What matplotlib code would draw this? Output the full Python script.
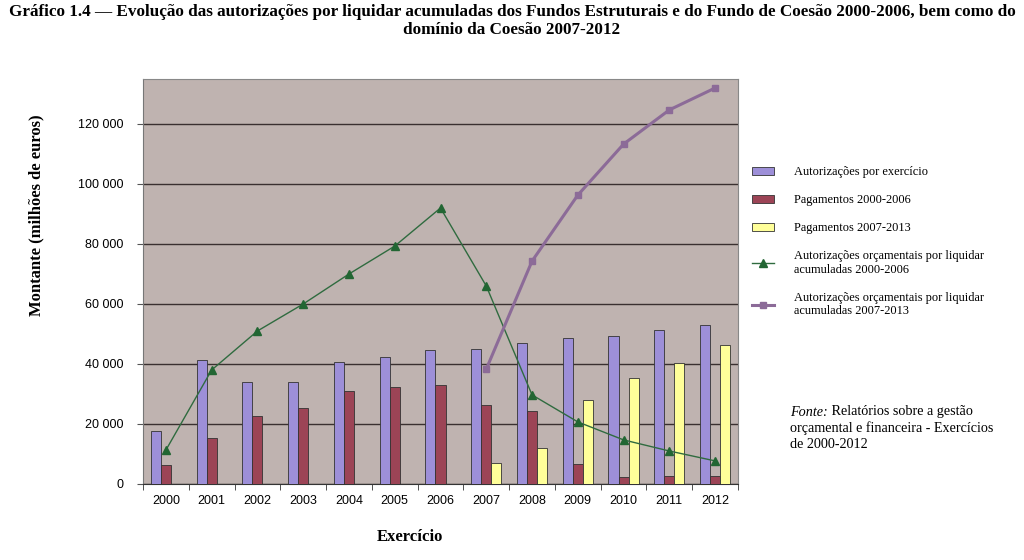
import matplotlib
matplotlib.use("Agg")
import matplotlib.pyplot as plt
import numpy as np

years = ["2000", "2001", "2002", "2003", "2004", "2005", "2006",
         "2007", "2008", "2009", "2010", "2011", "2012"]
autorizacoes = [17700, 41300, 34000, 34000, 40700, 42300, 44700,
                45000, 47000, 48700, 49300, 51300, 53000]
pag_2000_2006 = [6300, 15300, 22700, 25300, 31000, 32300, 33000,
                 26300, 24300, 6700, 2300, 2700, 2700]
pag_2007_2013 = [0, 0, 0, 0, 0, 0, 0,
                 7000, 12000, 28000, 35300, 40300, 46300]
ral_2000_2006 = [11300, 38000, 51000, 60000, 70000, 79300, 92000,
                 66000, 29700, 20700, 14700, 11000, 7700]
ral_2007_2013_years = ["2007", "2008", "2009", "2010", "2011", "2012"]
ral_2007_2013 = [38300, 74300, 96300, 113300, 124700, 132000]
yticks = [0, 20000, 40000, 60000, 80000, 100000, 120000]
ytick_labels = ["0", "20 000", "40 000", "60 000", "80 000", "100 000", "120 000"]

serif = "Liberation Serif"
sans = "Liberation Sans"

fig = plt.figure(figsize=(10.24, 5.6), dpi=100)
ax = fig.add_axes([143/1024, 1-484/560, (738-143)/1024, (484-79)/560])
ax.set_facecolor("#bfb3b0")

x = np.arange(len(years))
w = 0.22
c_purple = "#9d8fd8"
c_red = "#9c4456"
c_yellow = "#ffff99"
b1 = ax.bar(x - w, autorizacoes, w, color=c_purple, edgecolor="#333333", linewidth=0.6,
            label="Autorizações por exercício", zorder=3)
b2 = ax.bar(x, pag_2000_2006, w, color=c_red, edgecolor="#333333", linewidth=0.6,
            label="Pagamentos 2000-2006", zorder=3)
mask = np.array(pag_2007_2013) > 0
b3 = ax.bar(x[mask] + w, np.array(pag_2007_2013)[mask], w, color=c_yellow, edgecolor="#333333",
            linewidth=0.6, label="Pagamentos 2007-2013", zorder=3)
l1, = ax.plot(x, ral_2000_2006, color="#2f6b3f", linewidth=1.0, marker="^", markersize=6,
              markerfacecolor="#226633", markeredgecolor="#226633",
              label="Autorizações orçamentais por liquidar\nacumuladas 2000-2006", zorder=4)
x2 = [years.index(y) for y in ral_2007_2013_years]
l2, = ax.plot(x2, ral_2007_2013, color="#8c6b98", linewidth=2.2, marker="s", markersize=4,
              markerfacecolor="#8c6b98", markeredgecolor="#8c6b98",
              label="Autorizações orçamentais por liquidar\nacumuladas 2007-2013", zorder=4)

ax.set_xlim(-0.5, len(years) - 0.5)
ax.set_ylim(0, 135000)
ax.set_yticks(yticks)
ax.set_yticklabels(ytick_labels, fontfamily=sans, fontsize=9)
ax.set_xticks(x)
ax.set_xticklabels(years, fontfamily=sans, fontsize=9)
ax.set_xticks(np.arange(-0.5, len(years), 1), minor=True)
ax.tick_params(axis="x", which="major", length=0, pad=8)
ax.tick_params(axis="x", which="minor", length=4, color="#333333")
ax.tick_params(axis="y", length=4, color="#555555", pad=10)
ax.grid(axis="y", color="#3a3030", linewidth=1.0, zorder=1)
for s in ["top", "right"]:
    ax.spines[s].set_color("#888888")
ax.spines["left"].set_color("#777777")
ax.spines["bottom"].set_color("#333333")

ax.set_ylabel("Montante (milhões de euros)", fontfamily=serif, fontweight="bold", fontsize=12)
ax.yaxis.set_label_coords(-0.165, 0.664)
ax.set_xlabel("Exercício", fontfamily=serif, fontweight="bold", fontsize=12)
ax.xaxis.set_label_coords(0.449, -0.11)

fig.text(0.5, 1 - 12/560,
         "Gráfico 1.4 — Evolução das autorizações por liquidar acumuladas dos Fundos Estruturais e do Fundo de Coesão 2000-2006, bem como do",
         ha="center", va="center", fontfamily=serif, fontweight="bold", fontsize=12.3)
fig.text(0.5, 1 - 30/560, "domínio da Coesão 2007-2012",
         ha="center", va="center", fontfamily=serif, fontweight="bold", fontsize=12.3)

leg = fig.legend(handles=[b1, b2, b3, l1, l2], loc="upper left",
                 bbox_to_anchor=(741/1024, 1 - 155/560), frameon=False,
                 prop={"family": serif, "size": 8.9}, labelspacing=1.3,
                 handlelength=1.8, handletextpad=1.6, handleheight=0.6)
for t in leg.get_texts():
    t.set_linespacing(1.15)

t1 = fig.text(790/1024, 1 - 412/560, "Fonte:", fontfamily=serif, fontstyle="italic",
              fontsize=10.2, va="center", ha="left")
ax.annotate(" Relatórios sobre a gestão", xy=(1, 0), xycoords=t1,
            va="bottom", ha="left", fontfamily=serif, fontsize=10.2,
            annotation_clip=False)
fig.text(790/1024, 1 - 428/560, "orçamental e financeira - Exercícios",
         fontfamily=serif, fontsize=10.2, va="center", ha="left")
fig.text(790/1024, 1 - 444/560, "de 2000-2012",
         fontfamily=serif, fontsize=10.2, va="center", ha="left")

fig.savefig("out.png", dpi=100)
